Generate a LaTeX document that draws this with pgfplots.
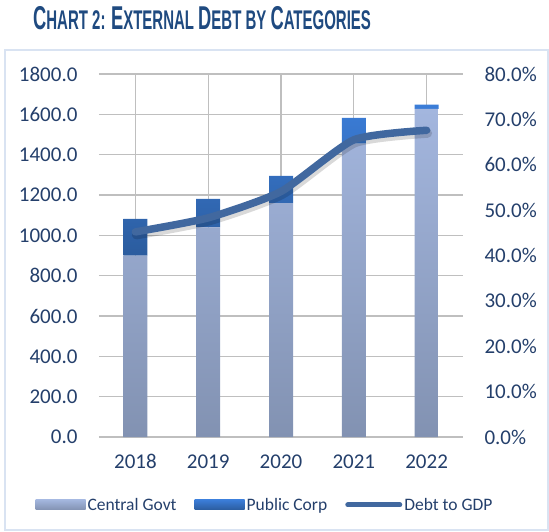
\documentclass[border=0pt]{standalone}
\usepackage{pgfplots}
\pgfplotsset{compat=1.18}
\usepackage{fontspec}
\setmainfont{Carlito}
\newfontfamily\titlefont[FakeStretch=0.555]{Liberation Sans}
\definecolor{txt}{HTML}{243F6B}
\definecolor{ttl}{HTML}{1F4A80}
\definecolor{grid}{HTML}{D6E1F1}
\definecolor{frame}{HTML}{D9E3F2}
\definecolor{cgTop}{HTML}{A3B6DE}
\definecolor{cgBot}{HTML}{8292B2}
\definecolor{pcTop}{HTML}{3B7DD8}
\definecolor{pcBot}{HTML}{2B5C9E}
\definecolor{lineC}{HTML}{41689F}
\begin{document}
\begin{tikzpicture}
\useasboundingbox (0pt,0pt) rectangle (549pt,531pt);
\draw[frame, line width=1.2pt] (5pt,1pt) rectangle (548pt,481pt);
\node[anchor=west, inner sep=0pt, text=ttl] at (33pt,513pt)
 {\titlefont\bfseries\fontsize{33}{33}\selectfont C\fontsize{27}{27}\selectfont HART 2: \fontsize{33}{33}\selectfont E\fontsize{27}{27}\selectfont XTERNAL \fontsize{33}{33}\selectfont D\fontsize{27}{27}\selectfont EBT BY \fontsize{33}{33}\selectfont C\fontsize{27}{27}\selectfont ATEGORIES};
\begin{axis}[
  at={(99pt,94pt)}, anchor=south west,
  width=364pt, height=363pt, scale only axis,
  ybar stacked, bar width=24pt,
  xmin=-0.5, xmax=4.5, ymin=0, ymax=1800,
  xtick={0,1,2,3,4}, xticklabels={2018,2019,2020,2021,2022},
  ytick={0,200,...,1800},
  axis line style={draw=none}, major tick length=0pt,
  ymajorgrids, grid style={grid, line width=1.2pt},
  /pgf/number format/assume math mode=true,
  yticklabel={\pgfmathprintnumber[fixed,fixed zerofill,precision=1,1000 sep={}]{\tick}},
  ticklabel style={font=\fontsize{21}{21}\selectfont, text=txt},
  yticklabel style={xshift=-18pt},
  xticklabel style={yshift=-14pt},
  legend style={at={(0.456,-0.187)}, anchor=center, draw=none, fill=none,
    legend columns=3, font=\fontsize{17.5}{17.5}\selectfont, text=txt,
    /tikz/every even column/.append style={column sep=16pt},
    nodes={inner sep=2pt}},
  legend cell align=left,
]
\addplot[forget plot, draw=none, top color=cgTop, bottom color=cgBot] coordinates {(0,900) (1,1040) (2,1160) (3,1455) (4,1627)};
\addplot[forget plot, draw=none, top color=pcTop, bottom color=pcBot] coordinates {(0,182) (1,141) (2,135) (3,127) (4,21)};
\addlegendimage{legend image code/.code={\path[draw=none, top color=cgTop, bottom color=cgBot] (0pt,-5pt) rectangle (50pt,5pt);}}
\addlegendentry{Central Govt}
\addlegendimage{legend image code/.code={\path[draw=none, top color=pcTop, bottom color=pcBot] (0pt,-5pt) rectangle (50pt,5pt);}}
\addlegendentry{Public Corp}
\addlegendimage{legend image code/.code={\draw[lineC, line width=5pt, line cap=round] (0pt,0pt) -- (52pt,0pt);}}
\addlegendentry{Debt to GDP}
\end{axis}
\begin{axis}[
  at={(99pt,94pt)}, anchor=south west,
  width=364pt, height=363pt, scale only axis,
  xmin=-0.5, xmax=4.5, ymin=0, ymax=80,
  axis x line=none, axis y line*=right,
  ytick={0,10,...,80},
  axis line style={draw=none}, major tick length=0pt,
  /pgf/number format/assume math mode=true,
  yticklabel={\pgfmathprintnumber[fixed,fixed zerofill,precision=1]{\tick}\%},
  ticklabel style={font=\fontsize{21}{21}\selectfont, text=txt},
  yticklabel style={xshift=18pt},
]
\addplot[black, opacity=0.15, line width=9pt, line cap=round, smooth, tension=0.35, shift={(1pt,-3pt)}] coordinates {(0,45.2) (1,48.3) (2,54.1) (3,65.5) (4,67.6)};
\addplot[lineC, line width=7.5pt, line cap=round, smooth, tension=0.35] coordinates {(0,45.2) (1,48.3) (2,54.1) (3,65.5) (4,67.6)};
\end{axis}
\end{tikzpicture}
\end{document}
